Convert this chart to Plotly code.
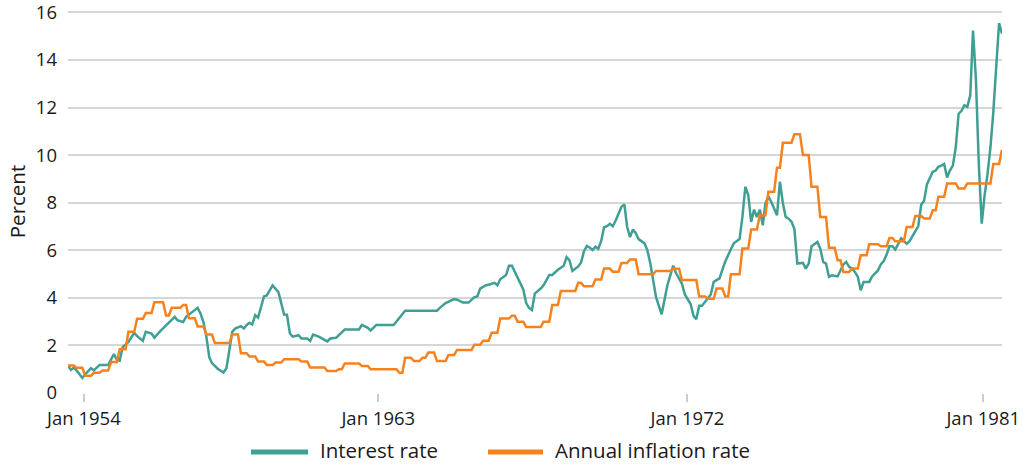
import pandas as pd
import plotly.graph_objects as go

# ---------------- data ----------------
# Interest rate: (month, value) pairs
rate_dates = [
    "1954-01", "1954-02", "1954-03", "1954-04", "1954-05", "1954-06", "1954-07", "1954-09", "1954-10", "1954-12",
    "1955-03", "1955-05", "1955-06", "1955-07", "1955-08", "1955-10", "1955-12",
    "1956-01", "1956-03", "1956-04", "1956-06", "1956-07", "1956-09", "1956-12",
    "1957-02", "1957-03", "1957-05", "1957-06", "1957-08", "1957-10", "1957-11", "1957-12",
    "1958-01", "1958-02", "1958-03", "1958-05", "1958-07", "1958-08", "1958-09", "1958-10", "1958-11",
    "1959-01", "1959-02", "1959-03", "1959-04", "1959-05", "1959-06", "1959-07", "1959-09", "1959-10", "1959-12",
    "1960-01", "1960-02", "1960-04", "1960-05", "1960-06", "1960-07", "1960-09", "1960-10", "1960-12",
    "1961-01", "1961-02", "1961-04", "1961-07", "1961-08", "1961-10",
    "1962-01", "1962-06", "1962-07", "1962-09", "1962-10", "1962-12",
    "1963-06", "1963-10",
    "1964-09", "1964-10", "1964-12",
    "1965-03", "1965-04", "1965-06", "1965-08", "1965-10", "1965-11", "1965-12",
    "1966-02", "1966-03", "1966-05", "1966-06", "1966-07", "1966-09", "1966-10", "1966-11",
    "1967-01", "1967-03", "1967-04", "1967-05", "1967-06", "1967-07", "1967-09", "1967-10", "1967-12",
    "1968-01", "1968-03", "1968-05", "1968-06", "1968-07", "1968-08", "1968-10", "1968-11", "1968-12",
    "1969-01", "1969-02", "1969-03", "1969-04", "1969-05", "1969-06", "1969-07", "1969-08", "1969-09", "1969-10", "1969-11", "1969-12",
    "1970-01", "1970-02", "1970-03", "1970-04", "1970-05", "1970-06", "1970-07", "1970-09", "1970-10", "1970-11", "1970-12",
    "1971-01", "1971-03", "1971-04", "1971-05", "1971-07", "1971-08", "1971-10", "1971-11",
    "1972-01", "1972-02", "1972-03", "1972-04", "1972-05", "1972-07", "1972-08", "1972-09", "1972-11", "1972-12",
    "1973-01", "1973-03", "1973-04", "1973-06", "1973-07", "1973-08", "1973-09", "1973-10", "1973-11", "1973-12",
    "1974-01", "1974-02", "1974-03", "1974-04", "1974-05", "1974-07", "1974-08", "1974-09", "1974-10", "1974-11", "1974-12",
    "1975-01", "1975-02", "1975-04", "1975-05", "1975-06", "1975-07", "1975-09", "1975-10", "1975-11", "1975-12",
    "1976-01", "1976-02", "1976-04", "1976-05", "1976-06", "1976-07", "1976-08", "1976-09", "1976-10", "1976-11", "1976-12",
    "1977-01", "1977-03", "1977-04", "1977-06", "1977-07", "1977-08", "1977-09", "1977-10", "1977-11", "1977-12",
    "1978-02", "1978-03", "1978-04", "1978-05", "1978-06", "1978-08", "1978-09", "1978-10", "1978-11",
    "1979-01", "1979-02", "1979-03", "1979-04", "1979-05", "1979-06", "1979-07", "1979-08", "1979-09", "1979-10", "1979-11", "1979-12",
    "1980-01", "1980-02", "1980-03", "1980-04", "1980-05", "1980-06", "1980-07", "1980-08", "1980-09", "1980-10", "1980-11", "1980-12",
    "1981-01",
]
rate_values = [
    1.15, 0.97, 1.06, 0.95, 0.80, 0.63, 0.78, 1.04, 0.95, 1.18,
    1.18, 1.64, 1.39, 1.36, 1.93, 2.15, 2.53,
    2.39, 2.19, 2.57, 2.50, 2.32, 2.60, 2.98,
    3.20, 3.06, 2.98, 3.20, 3.41, 3.58, 3.33, 2.98,
    2.37, 1.50, 1.26, 1.02, 0.86, 1.04, 1.81, 2.57, 2.71,
    2.81, 2.71, 2.85, 2.95, 2.88, 3.27, 3.17, 4.06, 4.10, 4.52,
    4.38, 4.24, 3.30, 3.29, 2.50, 2.37, 2.43, 2.29, 2.29,
    2.19, 2.46, 2.37, 2.17, 2.29, 2.32,
    2.67, 2.67, 2.86, 2.74, 2.63, 2.86,
    2.86, 3.46,
    3.46, 3.58, 3.78,
    3.95, 3.92, 3.80, 3.80, 4.03, 4.06, 4.39,
    4.53, 4.55, 4.63, 4.53, 4.78, 4.96, 5.35, 5.35,
    4.86, 4.35, 3.78, 3.58, 3.49, 4.18, 4.39, 4.53, 4.96,
    4.96, 5.18, 5.35, 5.71, 5.58, 5.13, 5.32, 5.49, 5.96,
    6.18, 6.11, 6.01, 6.15, 6.06, 6.39, 6.97, 7.01, 7.11, 7.01, 7.25, 7.58,
    7.83, 7.93, 7.00, 6.55, 6.87, 6.72, 6.47, 6.29, 6.01, 5.46, 4.75,
    4.03, 3.31, 3.89, 4.53, 5.35, 5.03, 4.60, 4.14,
    3.74, 3.24, 3.10, 3.67, 3.67, 3.96, 4.14, 4.67, 4.82, 5.18,
    5.53, 6.04, 6.29, 6.47, 7.40, 8.67, 8.32, 7.19, 7.71, 7.40,
    7.71, 7.05, 7.96, 8.27, 8.04, 7.47, 8.88, 7.99, 7.40, 7.33, 7.20,
    6.90, 5.44, 5.47, 5.23, 5.44, 6.17, 6.35, 6.07, 5.51, 5.44,
    4.88, 4.95, 4.90, 5.16, 5.40, 5.51, 5.30, 5.23, 5.09, 4.88, 4.32,
    4.67, 4.67, 4.90, 5.15, 5.40, 5.55, 5.82, 6.17, 6.17, 6.03,
    6.50, 6.38, 6.27, 6.38, 6.60, 7.02, 7.91, 8.08, 8.78,
    9.30, 9.35, 9.51, 9.56, 9.63, 9.06, 9.35, 9.56, 10.33, 11.74, 11.86, 12.10,
    12.03, 12.52, 15.24, 13.15, 9.63, 7.12, 8.30, 9.20, 10.33, 11.80, 13.50, 15.55,
    15.10,
]

# Annual inflation rate: one value per month, Jan 1954 - Jan 1981
inflation_start = "1954-01-01"
inflation_values = [
    1.16, 1.16, 1.16, 1.06, 1.06, 1.06, 0.72, 0.72, 0.72, 0.85, 0.85, 0.85,   # 1954
    0.95, 0.95, 0.95, 1.30, 1.30, 1.30, 1.84, 1.84, 1.84, 2.57, 2.57, 2.57,   # 1955
    3.12, 3.12, 3.12, 3.36, 3.36, 3.36, 3.82, 3.82, 3.82, 3.82, 3.26, 3.26,   # 1956
    3.58, 3.58, 3.58, 3.58, 3.70, 3.70, 3.14, 3.14, 3.14, 2.80, 2.80, 2.80,   # 1957
    2.46, 2.46, 2.46, 2.10, 2.10, 2.10, 2.10, 2.10, 2.10, 2.46, 2.46, 2.46,   # 1958
    1.67, 1.67, 1.67, 1.53, 1.53, 1.53, 1.32, 1.32, 1.32, 1.18, 1.18, 1.18,   # 1959
    1.28, 1.28, 1.28, 1.42, 1.42, 1.42, 1.42, 1.42, 1.42, 1.32, 1.32, 1.32,   # 1960
    1.07, 1.07, 1.07, 1.07, 1.07, 1.07, 0.92, 0.92, 0.92, 0.92, 1.00, 1.00,   # 1961
    1.24, 1.24, 1.24, 1.24, 1.24, 1.24, 1.14, 1.14, 1.14, 1.00, 1.00, 1.00,   # 1962
    1.00, 1.00, 1.00, 1.00, 1.00, 1.00, 1.00, 0.85, 0.85, 1.48, 1.48, 1.48,   # 1963
    1.34, 1.34, 1.34, 1.48, 1.48, 1.70, 1.70, 1.70, 1.34, 1.34, 1.34, 1.34,   # 1964
    1.60, 1.60, 1.60, 1.81, 1.81, 1.81, 1.81, 1.81, 1.81, 2.03, 2.03, 2.03,   # 1965
    2.20, 2.20, 2.20, 2.53, 2.53, 2.53, 3.13, 3.13, 3.13, 3.13, 3.25, 3.25,   # 1966
    3.00, 3.00, 3.00, 2.77, 2.77, 2.77, 2.77, 2.77, 2.77, 3.00, 3.00, 3.00,   # 1967
    3.70, 3.70, 3.70, 4.29, 4.29, 4.29, 4.29, 4.29, 4.29, 4.63, 4.63, 4.49,   # 1968
    4.49, 4.49, 4.49, 4.77, 4.77, 4.77, 5.23, 5.23, 5.23, 5.10, 5.10, 5.10,   # 1969
    5.46, 5.46, 5.46, 5.61, 5.61, 5.61, 4.99, 4.99, 4.99, 4.99, 4.99, 4.99,   # 1970
    5.13, 5.13, 5.13, 5.13, 5.13, 5.13, 5.22, 5.22, 5.22, 4.75, 4.75, 4.75,   # 1971
    4.75, 4.75, 4.75, 4.06, 4.06, 4.06, 3.96, 3.96, 3.96, 4.39, 4.39, 4.39,   # 1972
    4.06, 4.06, 4.99, 4.99, 4.99, 4.99, 6.07, 6.07, 6.07, 6.87, 6.87, 6.87,   # 1973
    7.47, 7.47, 7.47, 8.46, 8.46, 8.46, 9.47, 9.47, 10.52, 10.52, 10.52, 10.52,  # 1974
    10.88, 10.88, 10.88, 10.00, 10.00, 10.00, 8.67, 8.67, 8.67, 7.40, 7.40, 7.40,  # 1975
    6.11, 6.11, 6.11, 5.58, 5.58, 5.09, 5.09, 5.09, 5.23, 5.23, 5.23, 5.79,   # 1976
    5.79, 5.79, 6.25, 6.25, 6.25, 6.25, 6.17, 6.17, 6.17, 6.52, 6.52, 6.38,   # 1977
    6.38, 6.38, 6.38, 6.98, 6.98, 6.98, 7.44, 7.44, 7.44, 7.34, 7.34, 7.34,   # 1978
    7.68, 7.68, 8.25, 8.25, 8.25, 8.81, 8.81, 8.81, 8.81, 8.60, 8.60, 8.60,   # 1979
    8.81, 8.81, 8.81, 8.81, 8.81, 8.81, 8.81, 8.81, 8.81, 9.63, 9.63, 9.63,   # 1980
    10.22,                                                                     # 1981
]

series_names = ["Interest rate", "Annual inflation rate"]
tick_dates = ["1954-06-18", "1962-12-21", "1971-11-29", "1980-06-17"]
tick_labels = ["Jan 1954", "Jan 1963", "Jan 1972", "Jan 1981"]
y_ticks = [0, 2, 4, 6, 8, 10, 12, 14, 16]

TEAL = "#3f9f93"
ORANGE = "#f6821f"
FONT = "Open Sans"
TEXT = "#1a1a1a"

inflation_dates = pd.date_range(inflation_start, periods=len(inflation_values), freq="MS")
rate_x = pd.to_datetime(rate_dates, format="%Y-%m")

fig = go.Figure()
fig.add_trace(go.Scatter(x=rate_x, y=rate_values, mode="lines", name=series_names[0],
                         line=dict(color=TEAL, width=2.5)))
fig.add_trace(go.Scatter(x=inflation_dates, y=inflation_values, mode="lines", name=series_names[1],
                         line=dict(color=ORANGE, width=2.5)))

# Legend below the plot (swatch + label per series), positioned in paper units
legend_items = [
    # (swatch x0, swatch x1, label x) in paper fraction of plot width
    (0.1959, 0.2570, 0.2677),
    (0.4497, 0.5086, 0.5193),
]
legend_colors = [TEAL, ORANGE]
for (sx0, sx1, tx), col, name in zip(legend_items, legend_colors, series_names):
    fig.add_shape(type="line", xref="paper", yref="paper", x0=sx0, x1=sx1, y0=-0.154, y1=-0.154,
                  line=dict(color=col, width=5))
    fig.add_annotation(xref="paper", yref="paper", x=tx, y=-0.149, xanchor="left", yanchor="middle",
                       text=name, showarrow=False, font=dict(family=FONT, size=20.5, color=TEXT))

fig.update_layout(
    width=1023, height=464,
    margin=dict(l=68, r=21, t=10, b=71, autoexpand=False),
    paper_bgcolor="white", plot_bgcolor="white",
    font=dict(family=FONT, size=18, color=TEXT),
    showlegend=False,
)
fig.update_xaxes(
    type="date", range=["1954-01-01", "1981-01-01"], automargin=False,
    tickmode="array", tickvals=tick_dates, ticktext=tick_labels,
    ticks="outside", ticklen=8, tickwidth=2, tickcolor="#cccccc",
    showgrid=False, showline=False, zeroline=False,
    ticklabelstandoff=1,
    tickfont=dict(size=18.5),
)
fig.update_yaxes(
    range=[0, 16.1], tickmode="array", tickvals=y_ticks, automargin=False,
    showgrid=True, gridcolor="#d6d6d6", gridwidth=2,
    zeroline=False, showline=False, ticks="",
    ticklabelstandoff=10, ticklabeloverflow="allow",
    title=dict(text="Percent", standoff=4, font=dict(size=20.5)),
    tickfont=dict(size=18.5),
)

fig.write_html("out.html", config={"displayModeBar": False},
               post_script="document.body.style.margin='0';")
